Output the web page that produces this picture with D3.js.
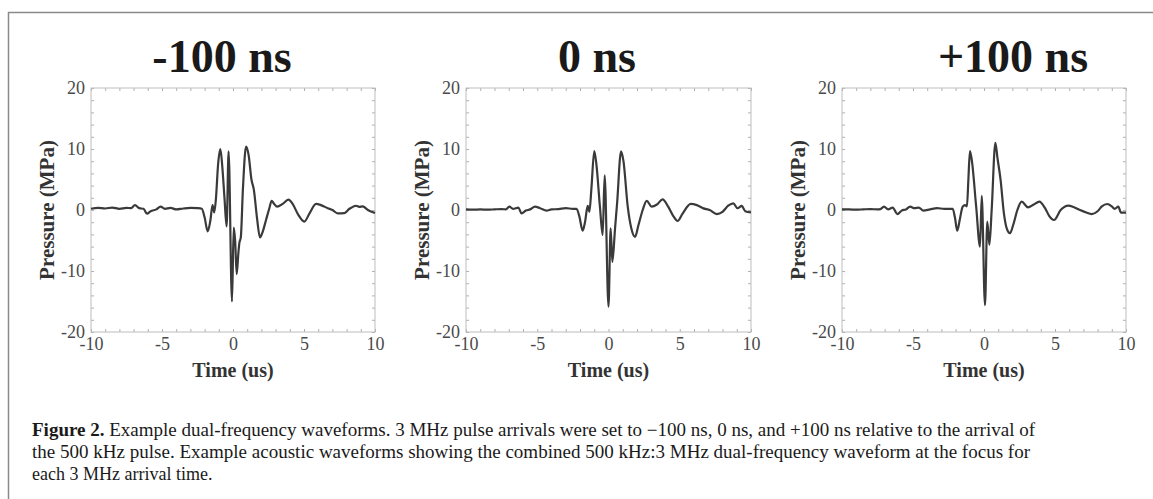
<!DOCTYPE html>
<html>
<head>
<meta charset="utf-8">
<script src="https://cdn.jsdelivr.net/npm/d3@7"></script>
<style>
  body { margin: 0; background: #fff; }
  svg text { font-family: "Liberation Serif", "Times New Roman", serif; }
</style>
</head>
<body>
<div id="chart-div"></div>
<script>
// Panel titles and tick values.
var titles = ["-100 ns", "0 ns", "+100 ns"];
var xTicks = [-10, -5, 0, 5, 10];
var yTicks = [-20, -10, 0, 10, 20];

// -100 ns waveform (time in us, pressure in MPa).
var timeNeg = [-10, -9.5, -9, -8.5, -8, -7.5, -7.2, -6.9, -6.6, -6.3, -6.06, -5.8, -5.4, -5.1, -4.8, -4.4, -4, -3.5, -3, -2.5, -2.2, -2.0, -1.78, -1.6, -1.44, -1.32, -1.2, -1.05, -0.89, -0.75, -0.6, -0.45, -0.31, -0.07, 0.05, 0.15, 0.26, 0.38, 0.45, 0.55, 0.7, 0.92, 1.1, 1.3, 1.47, 1.7, 1.9, 2.1, 2.33, 2.55, 2.72, 2.9, 3.1, 3.5, 3.9, 4.2, 4.6, 5.02, 5.4, 5.85, 6.2, 6.67, 7.0, 7.37, 7.84, 8.2, 8.66, 8.9, 9.13, 9.5, 10];
var pressureNeg = [0.2, 0.35, 0.25, 0.4, 0.2, 0.35, 0.3, 0.8, 0.3, 0.2, -0.6, -0.2, 0.1, 0.55, 0.2, 0.35, 0.1, 0.25, 0.35, 0.3, 0.2, -1.2, -3.5, -1.8, 0.8, -0.4, 1.9, 7.5, 10.0, 7.0, 2.0, -2.7, 9.6, -15.0, -2.9, -5, -10.5, -7, -5.4, -4.5, 3.5, 10.4, 9.0, 5, 3.3, -1.5, -4.5, -3.5, -1.6, 0.2, 1.5, 1.0, 0.55, 1.0, 1.7, 1.0, -0.8, -1.9, -0.5, 1.0, 0.8, 0.3, 0.0, -0.55, -0.5, 0.2, 0.7, 0.5, 0.6, 0.0, -0.5];

// 0 ns waveform.
var timeZero = [-10, -9.5, -9, -8.5, -8, -7.5, -7.2, -6.96, -6.7, -6.32, -6.1, -5.8, -5.5, -5.16, -4.8, -4.34, -4, -3.5, -3, -2.5, -2.24, -2.05, -1.81, -1.65, -1.46, -1.34, -1.2, -1.0, -0.85, -0.6, -0.41, -0.27, 0.0, 0.15, 0.27, 0.46, 0.6, 0.88, 1.05, 1.35, 1.6, 1.86, 2.1, 2.4, 2.68, 3.03, 3.4, 3.8, 4.2, 4.55, 4.85, 5.2, 5.77, 6.2, 6.66, 7.1, 7.6, 8.0, 8.4, 8.76, 9.05, 9.35, 9.6, 10];
var pressureZero = [0.1, 0.05, 0.1, 0.05, 0.1, 0.15, 0.1, 0.55, 0.2, 0.38, -0.55, -0.1, 0.1, 0.55, 0.3, -0.1, 0.1, 0.15, 0.3, 0.2, 0.2, -1.0, -3.4, -2.0, 0.66, -0.3, 3.5, 9.67, 7.5, 0.5, -4.1, 5.7, -15.85, -3.0, -8.5, -3.0, 1.0, 9.6, 8.0, 0.55, -3.0, -4.4, -2.5, 0.0, 1.5, 0.55, 0.9, 1.75, 0.5, -1.0, -1.8, -0.6, 1.0, 0.8, 0.27, 0.0, -0.66, -0.3, 0.7, 1.1, 0.3, 0.66, -0.2, -0.4];

// +100 ns waveform.
var timePos = [-10, -9.5, -9, -8.5, -8, -7.5, -7.3, -7.04, -6.75, -6.43, -6.1, -5.8, -5.5, -5.2, -4.9, -4.6, -4.27, -3.8, -3.3, -2.8, -2.2, -2.05, -1.88, -1.7, -1.5, -1.34, -1.2, -1.1, -0.99, -0.85, -0.55, -0.28, -0.16, 0.07, 0.23, 0.38, 0.54, 0.8, 0.95, 1.17, 1.4, 1.6, 1.83, 2.05, 2.35, 2.65, 3.1, 3.5, 3.9, 4.3, 4.6, 4.93, 5.4, 5.94, 6.3, 6.76, 7.2, 7.58, 8.0, 8.3, 8.68, 9.0, 9.2, 9.46, 9.65, 10];
var pressurePos = [0.1, 0.1, 0.05, 0.1, 0.15, 0.1, 0.15, 0.55, 0.1, 0.38, -0.66, -0.1, 0.1, 0.55, 0.3, 0.4, -0.1, 0.1, 0.3, 0.2, 0.2, -1.2, -3.4, -1.5, 0.55, 0.8, 0.6, 5.0, 9.67, 8.0, 0.5, -6.0, 2.3, -15.6, -1.9, -5.7, 0.0, 11.0, 8.5, 4.9, -0.5, -3.0, -3.8, -2.5, 0.0, 1.37, 0.44, 0.9, 1.37, 0.3, -1.0, -1.64, 0.0, 0.71, 0.5, 0.0, -0.4, -0.66, -0.2, 0.6, 0.98, 0.6, 0.2, 0.55, -0.44, -0.44];

var captionLines = [
    ["Figure 2.", " Example dual-frequency waveforms. 3 MHz pulse arrivals were set to \u2212100 ns, 0 ns, and +100 ns relative to the arrival of"],
    ["", "the 500 kHz pulse. Example acoustic waveforms showing the combined 500 kHz:3 MHz dual-frequency waveform at the focus for"],
    ["", "each 3 MHz arrival time."]
];

// Layout of each panel (pixels).
var panels = [
    { left: 91,  right: 375,  titleX: 222,  time: timeNeg,  pressure: pressureNeg },
    { left: 466, right: 751,  titleX: 597,  time: timeZero, pressure: pressureZero },
    { left: 842, right: 1126, titleX: 1013, time: timePos,  pressure: pressurePos }
];
var plotTop = 88, plotBottom = 332;

var svg = d3.select("#chart-div").append("svg")
    .attr("width", 1153)
    .attr("height", 499);

// frame round the figure (only top and left visible in the crop)
svg.append("path")
    .attr("d", "M8.5,499 L8.5,12.5 L1153,12.5")
    .attr("fill", "none")
    .attr("stroke", "#8a8a8a")
    .attr("stroke-width", 1.5);

// plain hyphen for negatives, like the original
function tickText(d) { return String(d); }

function drawPanel(p, i) {
    var x = d3.scaleLinear().domain([-10, 10]).range([p.left, p.right]);
    var y = d3.scaleLinear().domain([-20, 20]).range([plotBottom, plotTop]);
    var g = svg.append("g");

    // title
    g.append("text")
        .attr("x", p.titleX)
        .attr("y", 72)
        .attr("text-anchor", "middle")
        .attr("font-size", 46)
        .attr("font-weight", "bold")
        .attr("fill", "#1a1a1a")
        .text(titles[i]);

    // minor ticks on all four sides, pointing inward
    var tickColor = "#b0b0b0";
    var minor = [
        d3.axisBottom(x).ticks(20).tickSize(-3).tickFormat(""),
        d3.axisTop(x).ticks(20).tickSize(-3).tickFormat(""),
        d3.axisLeft(y).ticks(20).tickSize(-3).tickFormat(""),
        d3.axisRight(y).ticks(20).tickSize(-3).tickFormat("")
    ];
    var shifts = ["translate(0," + plotBottom + ")", "translate(0," + plotTop + ")",
                  "translate(" + p.left + ",0)", "translate(" + p.right + ",0)"];
    minor.forEach(function(ax, k) {
        var a = g.append("g").attr("transform", shifts[k]).call(ax);
        a.select(".domain").remove();
        a.selectAll("line").attr("stroke", tickColor);
    });

    // box
    g.append("rect")
        .attr("x", p.left).attr("y", plotTop)
        .attr("width", p.right - p.left).attr("height", plotBottom - plotTop)
        .attr("fill", "none")
        .attr("stroke", "#bdbdbd")
        .attr("stroke-width", 1);

    // tick labels
    var xa = g.append("g")
        .attr("transform", "translate(0," + plotBottom + ")")
        .call(d3.axisBottom(x).tickValues(xTicks).tickSize(0).tickPadding(18).tickFormat(tickText));
    var ya = g.append("g")
        .attr("transform", "translate(" + p.left + ",0)")
        .call(d3.axisLeft(y).tickValues(yTicks).tickSize(0).tickPadding(6).tickFormat(tickText));
    [xa, ya].forEach(function(a) {
        a.select(".domain").remove();
        a.selectAll("text")
            .attr("font-family", "Liberation Serif, Times New Roman, serif")
            .attr("font-size", 18)
            .attr("fill", "#4a4a4a");
    });
    xa.selectAll("text").attr("dy", "0");

    // axis titles
    g.append("text")
        .attr("x", (p.left + p.right) / 2)
        .attr("y", 377)
        .attr("text-anchor", "middle")
        .attr("font-size", 20)
        .attr("font-weight", "bold")
        .attr("fill", "#333")
        .text("Time (us)");
    g.append("text")
        .attr("transform", "translate(" + (p.left - 37) + "," + ((plotTop + plotBottom) / 2) + ") rotate(-90)")
        .attr("text-anchor", "middle")
        .attr("font-size", 21)
        .attr("font-weight", "bold")
        .attr("fill", "#333")
        .text("Pressure (MPa)");

    // waveform
    var line = d3.line()
        .x(function(d) { return x(d[0]); })
        .y(function(d) { return y(d[1]); })
        .curve(d3.curveMonotoneX);
    g.append("path")
        .datum(d3.zip(p.time, p.pressure))
        .attr("d", line)
        .attr("fill", "none")
        .attr("stroke", "#3a3a3a")
        .attr("stroke-width", 2.2)
        .attr("stroke-linejoin", "round");
}

panels.forEach(drawPanel);

// caption
var lineWidths = [1003, 998, null];
captionLines.forEach(function(parts, i) {
    var t = svg.append("text")
        .attr("x", 32)
        .attr("y", 436 + i * 22)
        .attr("font-size", 18)
        .attr("fill", "#1a1a1a");
    if (parts[0]) t.append("tspan").attr("font-weight", "bold").text(parts[0]);
    t.append("tspan").text(parts[1]);
    if (lineWidths[i]) {
        t.attr("textLength", lineWidths[i]).attr("lengthAdjust", "spacingAndGlyphs");
    }
});
</script>
</body>
</html>
